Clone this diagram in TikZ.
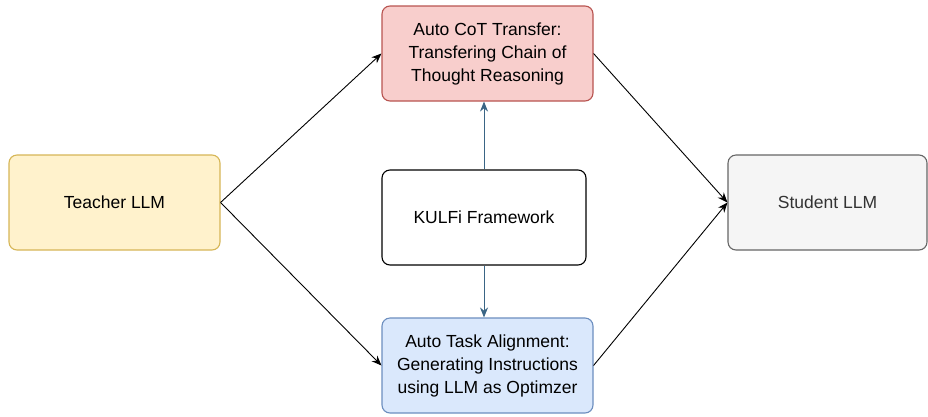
\documentclass[tikz,border=0pt]{standalone}
\usepackage{fontspec}
\setmainfont{Liberation Sans}
\usetikzlibrary{arrows.meta}
\definecolor{cotfill}{HTML}{F8CECC}\definecolor{cotline}{HTML}{B85450}
\definecolor{taskfill}{HTML}{DAE8FC}\definecolor{taskline}{HTML}{6C8EBF}
\definecolor{teachfill}{HTML}{FFF2CC}\definecolor{teachline}{HTML}{D6B656}
\definecolor{studfill}{HTML}{F5F5F5}\definecolor{studline}{HTML}{666666}
\definecolor{studtext}{HTML}{333333}
\definecolor{bluearrow}{HTML}{3A6585}
\begin{document}
\begin{tikzpicture}[x=1pt,y=-1pt,
  box/.style={draw, line width=1.1pt, rounded corners=8pt, align=center,
    font=\fontsize{17.5}{23}\selectfont, inner sep=0pt},
  blk/.style={line width=0.9pt, -{Stealth[length=10pt,width=8pt]}},
  blu/.style={line width=0.9pt, draw=bluearrow, -{Stealth[length=10pt,width=8pt]}, fill=bluearrow}]
\useasboundingbox (0,0) rectangle (928,416);
\node[box, fill=teachfill, draw=teachline, minimum width=211pt, minimum height=95pt] (teacher) at (114.5,202.5) {Teacher LLM};
\node[box, fill=cotfill, draw=cotline, minimum width=211pt, minimum height=95pt] (cot) at (487.5,53.5) {Auto CoT Transfer:\\Transfering Chain of\\Thought Reasoning};
\node[box, fill=white, draw=black, minimum width=204pt, minimum height=95pt] (kulfi) at (484,217.5) {KULFi Framework};
\node[box, fill=taskfill, draw=taskline, minimum width=211pt, minimum height=95pt] (task) at (487.5,365.5) {Auto Task Alignment:\\Generating Instructions\\using LLM as Optimzer};
\node[box, fill=studfill, draw=studline, text=studtext, minimum width=199pt, minimum height=95pt] (student) at (827.5,202.5) {Student LLM};
\draw[blk] (teacher.east) -- (cot.west);
\draw[blk] (teacher.east) -- (task.west);
\draw[blk] (cot.east) -- (student.west);
\draw[blk] (task.east) -- (student.west);
\draw[blu] (kulfi.north) -- (kulfi.north |- cot.south);
\draw[blu] (kulfi.south) -- (kulfi.south |- task.north);
\end{tikzpicture}
\end{document}
